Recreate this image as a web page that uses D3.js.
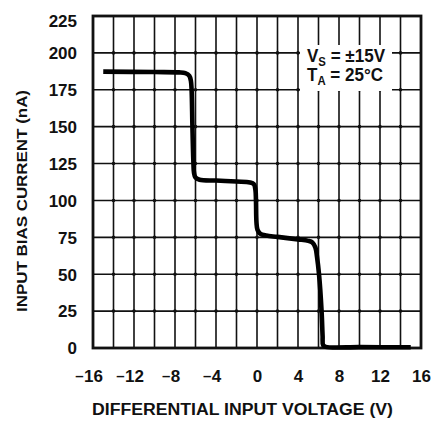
<!DOCTYPE html>
<html>
<head>
<meta charset="utf-8">
<script src="https://cdn.jsdelivr.net/npm/d3@7"></script>
<style>
  body { margin: 0; background: #ffffff; }
  svg text { font-family: "Liberation Sans", Arial, sans-serif; font-weight: bold; fill: #111; }
</style>
</head>
<body>
<div id="chart"></div>
<script>
// tick values
var xTicks = [-16, -12, -8, -4, 0, 4, 8, 12, 16];
var yTicks = [0, 25, 50, 75, 100, 125, 150, 175, 200, 225];
var xGrid = [-14, -12, -10, -8, -6, -4, -2, 0, 2, 4, 6, 8, 10, 12, 14];
var yGrid = [25, 50, 75, 100, 125, 150, 175, 200];

// curve: differential input voltage (V) / input bias current (nA)
var voltage = [-15.0, -10, -7.6, -7.0, -6.6, -6.45, -6.38, -6.3, -6.2, -6.15, -6.0, -5.6, -4, -2, -0.7, -0.3, -0.15, -0.1, -0.05, 0.05, 0.3, 0.9, 2, 4, 5.0, 5.4, 5.7, 5.85, 6.05, 6.3, 6.4, 6.45, 6.7, 10, 15.0];
var biasCurrent = [187.3, 187, 186.8, 186.3, 184.5, 181, 175, 150, 125, 119, 115.5, 114, 113.5, 112.8, 112.2, 111, 107, 100, 85, 80, 77.5, 76.2, 75.3, 73.6, 72.6, 71.5, 68, 62, 50, 25, 8, 2, 0.8, 0.6, 0.5];

var conditions = ["V", "S", " = ±15V", "T", "A", " = 25°C"];

drawChart();

function drawChart() {
    var w = 431, h = 421;
    var left = 93, top = 16, right = 421, bottom = 348;

    var svg = d3.select("#chart").append("svg").attr("width", w).attr("height", h).style("background", "#ffffff");

    var x = d3.scaleLinear().domain([-16, 16]).range([left, right]);
    var y = d3.scaleLinear().domain([0, 225]).range([bottom, top]);

    // grid
    var grid = svg.append("g").attr("stroke", "#111").attr("stroke-width", 1.6);
    grid.selectAll(".vg").data(xGrid).enter().append("line")
        .attr("x1", d => x(d)).attr("x2", d => x(d))
        .attr("y1", top).attr("y2", bottom);
    grid.selectAll(".hg").data(yGrid).enter().append("line")
        .attr("x1", left).attr("x2", right)
        .attr("y1", d => y(d)).attr("y2", d => y(d));

    // little dots where the grid lines cross
    var cross = [];
    xGrid.forEach(function (a) { yGrid.forEach(function (b) { cross.push([a, b]); }); });
    svg.append("g").selectAll("circle").data(cross).enter().append("circle")
        .attr("cx", d => x(d[0])).attr("cy", d => y(d[1])).attr("r", 1.8).attr("fill", "#111");

    // frame
    svg.append("rect").attr("x", left).attr("y", top)
        .attr("width", right - left).attr("height", bottom - top)
        .attr("fill", "none").attr("stroke", "#111").attr("stroke-width", 2.8);

    // curve
    var pts = voltage.map((v, i) => [v, biasCurrent[i]]);
    var line = d3.line().x(d => x(d[0])).y(d => y(d[1])).curve(d3.curveCatmullRom.alpha(0.5));
    svg.append("path").datum(pts).attr("d", line)
        .attr("fill", "none").attr("stroke", "#000").attr("stroke-width", 4.6)
        .attr("stroke-linejoin", "round").attr("stroke-linecap", "butt");

    // y axis labels
    var yAxis = svg.append("g").attr("transform", "translate(" + left + ",0)")
        .call(d3.axisLeft(y).tickValues(yTicks).tickSize(0).tickPadding(16));
    yAxis.select(".domain").remove();
    yAxis.selectAll("text").attr("font-size", 17).attr("font-family", null).attr("fill", "#111")
        .attr("dy", d => d == 225 ? "0.62em" : "0.34em");

    // x axis labels, digits centred on the line, minus hanging to the left
    var xAxis = svg.append("g").attr("transform", "translate(0," + bottom + ")")
        .call(d3.axisBottom(x).tickValues(xTicks).tickSize(0).tickPadding(22).tickFormat(d => Math.abs(d)));
    xAxis.select(".domain").remove();
    xAxis.selectAll("text").attr("font-size", 17).attr("font-family", null).attr("fill", "#111");
    xAxis.selectAll(".tick").each(function (d) {
        if (d >= 0) return;
        var t = d3.select(this).select("text");
        var half = t.node().getComputedTextLength() / 2;
        d3.select(this).append("text")
            .attr("x", -half - 0.5).attr("y", t.attr("y")).attr("dy", t.attr("dy"))
            .attr("text-anchor", "end").attr("font-size", 15).attr("fill", "#111")
            .text("–");
    });

    // axis titles
    svg.append("text").attr("x", 242.5).attr("y", 415).attr("text-anchor", "middle")
        .attr("font-size", 16).attr("textLength", 301).attr("lengthAdjust", "spacingAndGlyphs")
        .text("DIFFERENTIAL INPUT VOLTAGE (V)");
    svg.append("text").attr("transform", "translate(27,201) rotate(-90)").attr("text-anchor", "middle")
        .attr("font-size", 15).attr("textLength", 222).attr("lengthAdjust", "spacingAndGlyphs")
        .text("INPUT BIAS CURRENT (nA)");

    // conditions box
    svg.append("rect").attr("x", 300).attr("y", 45).attr("width", 92).attr("height", 46).attr("fill", "#ffffff");
    var l1 = svg.append("text").attr("x", 307).attr("y", 62).attr("font-size", 18)
        .attr("textLength", 78).attr("lengthAdjust", "spacingAndGlyphs");
    l1.append("tspan").text(conditions[0]);
    l1.append("tspan").attr("font-size", 12).attr("dy", 4).text(conditions[1]);
    l1.append("tspan").attr("dy", -4).text(conditions[2]);
    var l2 = svg.append("text").attr("x", 307).attr("y", 81).attr("font-size", 18)
        .attr("textLength", 76).attr("lengthAdjust", "spacingAndGlyphs");
    l2.append("tspan").text(conditions[3]);
    l2.append("tspan").attr("font-size", 12).attr("dy", 4).text(conditions[4]);
    l2.append("tspan").attr("dy", -4).text(conditions[5]);
}
</script>
</body>
</html>
